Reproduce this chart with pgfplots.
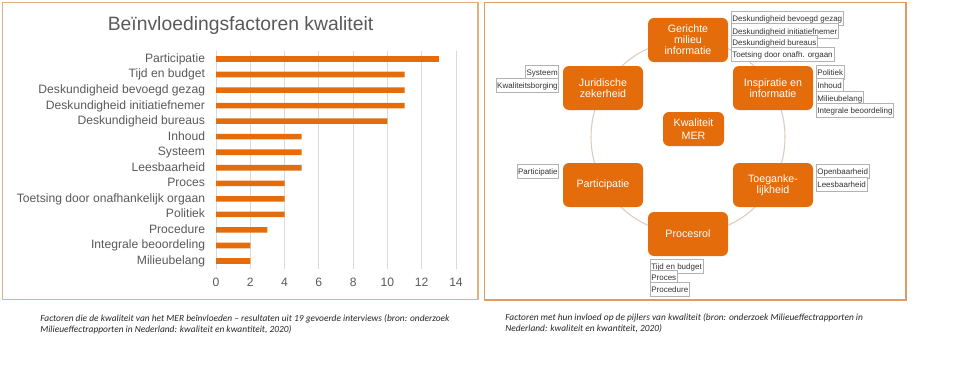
\documentclass[border=0pt]{standalone}
\usepackage{pgfplots}
\pgfplotsset{compat=1.18}
\usepackage{fontspec}
\setmainfont{Liberation Sans}
\newfontfamily\capfont{Carlito}
\definecolor{barorange}{HTML}{E46C0A}
\definecolor{txtgray}{HTML}{595959}
\definecolor{frameA}{HTML}{DDB285}
\definecolor{frameB}{HTML}{E39A62}
\definecolor{circ}{HTML}{D9CDBD}
\begin{document}
\begin{tikzpicture}[x=0.75pt,y=0.75pt]
\path[use as bounding box] (0,0) rectangle (960,383);
\begin{axis}[
 name=bars,
 at={(162pt,85.65pt)}, anchor=south west,
 scale only axis, width=180pt, height=163.2pt,
 xmin=0, xmax=14, ymin=-0.5, ymax=13.5,
 xbar, bar width=4.2pt,
 xtick={0,2,...,14},
 ytick={0,...,13},
 yticklabels={Milieubelang, Integrale beoordeling, Procedure, Politiek, Toetsing door onafhankelijk orgaan, Proces, Leesbaarheid, Systeem, Inhoud, Deskundigheid bureaus, Deskundigheid initiatiefnemer, Deskundigheid bevoegd gezag, Tijd en budget, Participatie},
 xmajorgrids, grid style={draw=black!15, line width=0.6pt},
 axis line style={draw=none},
 major tick length=0pt,
 tick label style={font=\fontsize{9.1}{10}\selectfont, text=txtgray},
 /pgf/number format/assume math mode=true,
 yticklabel style={inner xsep=0pt, xshift=-8pt, text height=0.72em, text depth=0.21em},
 xticklabel style={inner ysep=0pt, yshift=-7pt},
]
\addplot[fill=barorange, draw=none] coordinates {(2,0) (2,1) (3,2) (4,3) (4,4) (4,5) (5,6) (5,7) (5,8) (10,9) (11,10) (11,11) (11,12) (13,13)};
\end{axis}
\node[anchor=base, font=\fontsize{14.5}{16}\selectfont, text=txtgray] at (240.5,353) {Beïnvloedingsfactoren kwaliteit};
\draw[frameA, line width=1.1pt] (2.5,380.5) rectangle (478,83.5);
\draw[frameB, line width=1.1pt] (484.5,380.5) rectangle (906,83);
\begin{scope}[shift={(0,383)}, y=-0.75pt]
\tikzset{
 box/.style={fill=barorange, rounded corners=4.5pt, minimum width=60pt, minimum height=33pt, text=white, align=center, font=\fontsize{8}{8.25}\selectfont, inner sep=0pt},
 lab/.style={draw=black!30, fill=white, inner xsep=0.8pt, inner ysep=0.7pt, text height=0.72em, text depth=0.2em, font=\fontsize{6}{6}\selectfont, text=black!80, line width=0.4pt},
 capt/.style={anchor=base west, inner sep=0pt, font=\capfont\itshape\fontsize{7.05}{7.5}\selectfont, text=black!85},
}
\draw[circ, line width=0.8pt] (688,137) circle (97);
\node[box] at (688,40) {Gerichte\\milieu\\informatie};
\node[box] at (603,88) {Juridische\\zekerheid};
\node[box] at (773,88) {Inspiratie en\\informatie};
\node[box, minimum width=45.75pt, minimum height=25.5pt, font=\fontsize{8}{9.5}\selectfont] at (693.5,129) {Kwaliteit\\MER};
\node[box] at (603,185) {Participatie};
\node[box] at (773,185) {Toeganke-\\lijkheid};
\node[box] at (688,234) {Procesrol};
\node[lab, anchor=west] at (731,18.5) {Deskundigheid bevoegd gezag};
\node[lab, anchor=west] at (731,30.8) {Deskundigheid initiatiefnemer};
\node[lab, anchor=west] at (731,42) {Deskundigheid bureaus};
\node[lab, anchor=west] at (731,54) {Toetsing door onafh. orgaan};
\node[lab, anchor=east] at (559,72) {Systeem};
\node[lab, anchor=east] at (559,85) {Kwaliteitsborging};
\node[lab, anchor=west] at (816,72) {Politiek};
\node[lab, anchor=west] at (816,85.5) {Inhoud};
\node[lab, anchor=west] at (816,98.3) {Milieubelang};
\node[lab, anchor=west] at (816,110.3) {Integrale beoordeling};
\node[lab, anchor=east] at (559,171) {Participatie};
\node[lab, anchor=west] at (816,171) {Openbaarheid};
\node[lab, anchor=west] at (816,184.5) {Leesbaarheid};
\node[lab, anchor=west] at (650,266) {Tijd en budget};
\node[lab, anchor=west] at (650,277) {Proces};
\node[lab, anchor=west] at (650,289) {Procedure};
\node[capt] at (40,321) {Factoren die de kwaliteit van het MER beïnvloeden – resultaten uit 19 gevoerde interviews (bron: onderzoek};
\node[capt] at (40,332.5) {Milieueffectrapporten in Nederland: kwaliteit en kwantiteit, 2020)};
\node[capt] at (505,320) {Factoren met hun invloed op de pijlers van kwaliteit (bron: onderzoek Milieueffectrapporten in};
\node[capt] at (505,331.5) {Nederland: kwaliteit en kwantiteit, 2020)};
\end{scope}
\end{tikzpicture}
\end{document}
